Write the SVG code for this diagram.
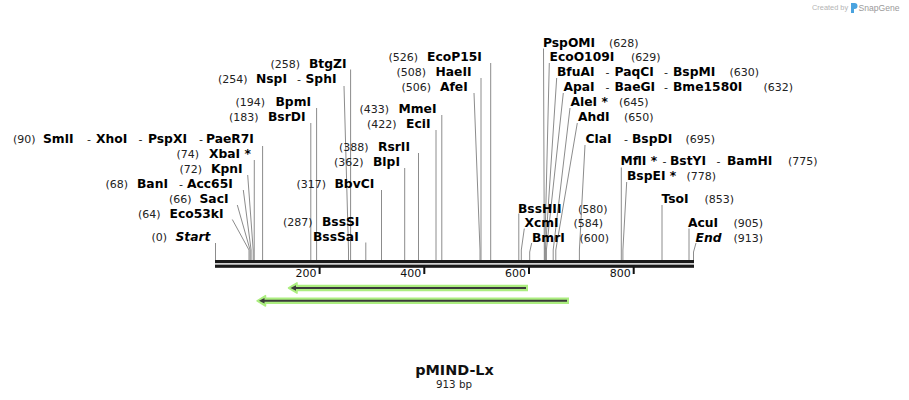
<svg xmlns="http://www.w3.org/2000/svg" width="909" height="400" viewBox="0 0 909 400">
<style>
.n{font-family:"DejaVu Sans",Verdana,sans-serif;font-size:11px;fill:#222}
.b{font-family:"DejaVu Sans",Verdana,sans-serif;font-size:12.3px;font-weight:bold;fill:#000}
.bi{font-family:"DejaVu Sans",Verdana,sans-serif;font-size:12.3px;font-weight:bold;font-style:italic;fill:#000}
.ln{stroke:#8c8c8c;stroke-width:1;fill:none}
.tk{font-family:"DejaVu Sans",Verdana,sans-serif;font-size:11px;fill:#111;text-anchor:end}
.wm{font-family:"Liberation Sans",Arial,sans-serif}
</style>
<rect width="909" height="400" fill="#fff"/>
<g id="watermark">
<text class="wm" x="812" y="10" font-size="7.4" fill="#b4b4b4">Created by</text>
<path d="M851,3 h3.5 a3,3 0 0 1 0,6 h-0.5 v4 h-3 z" fill="#4aa3df"/>
<text class="wm" x="858.5" y="11" font-size="8.6" fill="#9a9a9a">SnapGene</text>
</g>
<g id="connectors">
<polyline class="ln" points="215.5,243 215.5,260"/>
<polyline class="ln" points="232.3,219.5 249,250 249,260"/>
<polyline class="ln" points="237.3,205 250.1,250 250.1,260"/>
<polyline class="ln" points="243.3,190 251.1,250 251.1,260"/>
<polyline class="ln" points="247.7,175 253.2,250 253.2,260"/>
<polyline class="ln" points="254.3,160 254.2,260"/>
<polyline class="ln" points="262.6,146 262.6,260"/>
<polyline class="ln" points="310.8,123 310.8,260"/>
<polyline class="ln" points="316.6,108 316.6,260"/>
<polyline class="ln" points="344,86 348.5,250 348.5,260"/>
<polyline class="ln" points="350.6,69.5 350.6,260"/>
<polyline class="ln" points="365.8,242.5 365.8,260"/>
<polyline class="ln" points="381.5,190 381.5,260"/>
<polyline class="ln" points="404.7,168 404.7,260"/>
<polyline class="ln" points="418.5,153 418.5,260"/>
<polyline class="ln" points="436,130 436,260"/>
<polyline class="ln" points="441.8,115 441.8,260"/>
<polyline class="ln" points="474,93 480,250 480,260"/>
<polyline class="ln" points="481,78 481,260"/>
<polyline class="ln" points="490.7,63 490.7,260"/>
<polyline class="ln" points="518.8,213.5 518.8,260"/>
<polyline class="ln" points="524.3,228.5 521.3,250 521.3,260"/>
<polyline class="ln" points="531.7,243 529.7,252 529.7,260"/>
<polyline class="ln" points="543.5,48.5 544.3,250 544.3,260"/>
<polyline class="ln" points="549.3,63 544.8,250 544.8,260"/>
<polyline class="ln" points="556.7,78 545.4,250 545.4,260"/>
<polyline class="ln" points="563.3,93 546.4,250 546.4,260"/>
<polyline class="ln" points="570,108 553.2,250 553.2,260"/>
<polyline class="ln" points="577.3,123 555.8,250 555.8,260"/>
<polyline class="ln" points="585,145 579.4,250 579.4,260"/>
<polyline class="ln" points="621.3,167.5 621.3,260"/>
<polyline class="ln" points="626.7,182 622.9,250 622.9,260"/>
<polyline class="ln" points="662,205 662,260"/>
<polyline class="ln" points="689,228.5 689,260"/>
<polyline class="ln" points="696,243 693.5,252 693.5,260"/>
</g>
<g id="backbone">
<rect x="215" y="260" width="479" height="3.2" fill="#1a1a1a"/>
<rect x="215" y="264.6" width="479" height="3.2" fill="#1a1a1a"/>
<rect x="318.6" y="267" width="2" height="7" fill="#111"/>
<rect x="423.3" y="267" width="2" height="7" fill="#111"/>
<rect x="528" y="267" width="2" height="7" fill="#111"/>
<rect x="632.7" y="267" width="2" height="7" fill="#111"/>
<text class="tk" x="316.5" y="277">200</text>
<text class="tk" x="421.3" y="277">400</text>
<text class="tk" x="526" y="277">600</text>
<text class="tk" x="630.7" y="277">800</text>
</g>
<g id="feature1">
<path d="M528,288 H294" stroke="#acee80" stroke-width="6.5" fill="none"/>
<polygon points="288.5,288 297,282.8 297,293.2" fill="#acee80" stroke="#acee80" stroke-width="1.5" stroke-linejoin="round"/>
<path d="M526,288 H294" stroke="#3a3a3a" stroke-width="2" fill="none"/>
<polygon points="290.5,288 296,285.2 296,290.8" fill="#3a3a3a"/>
</g>
<g id="feature2">
<path d="M569,300.8 H262" stroke="#acee80" stroke-width="6.5" fill="none"/>
<polygon points="257,300.8 265.5,295.6 265.5,306" fill="#acee80" stroke="#acee80" stroke-width="1.5" stroke-linejoin="round"/>
<path d="M567,300.8 H262" stroke="#3a3a3a" stroke-width="2" fill="none"/>
<polygon points="259,300.8 264.5,298 264.5,303.6" fill="#3a3a3a"/>
</g>
<g id="lbl-SmlI"><text y="143"><tspan class="n" x="13">(90)</tspan><tspan class="b" x="43">SmlI</tspan><tspan class="n" x="87">-</tspan><tspan class="b" x="96">XhoI</tspan><tspan class="n" x="138.5">-</tspan><tspan class="b" x="148">PspXI</tspan><tspan class="n" x="199">-</tspan><tspan class="b" x="206">PaeR7I</tspan></text></g>
<g id="lbl-XbaI"><text y="158"><tspan class="n" x="176.5">(74)</tspan><tspan class="b" x="209">XbaI *</tspan></text></g>
<g id="lbl-KpnI"><text y="173"><tspan class="n" x="179.5">(72)</tspan><tspan class="b" x="211">KpnI</tspan></text></g>
<g id="lbl-BanI"><text y="188"><tspan class="n" x="105.5">(68)</tspan><tspan class="b" x="137">BanI</tspan><tspan class="n" x="179">-</tspan><tspan class="b" x="187">Acc65I</tspan></text></g>
<g id="lbl-SacI"><text y="203"><tspan class="n" x="169">(66)</tspan><tspan class="b" x="199.5">SacI</tspan></text></g>
<g id="lbl-Eco53kI"><text y="218"><tspan class="n" x="138">(64)</tspan><tspan class="b" x="169.5">Eco53kI</tspan></text></g>
<g id="lbl-Start"><text y="241"><tspan class="n" x="151.5">(0)</tspan><tspan class="bi" x="175.5">Start</tspan></text></g>
<g id="lbl-BtgZI"><text y="68"><tspan class="n" x="270.5">(258)</tspan><tspan class="b" x="309">BtgZI</tspan></text></g>
<g id="lbl-NspI"><text y="83"><tspan class="n" x="218">(254)</tspan><tspan class="b" x="256">NspI</tspan><tspan class="n" x="297">-</tspan><tspan class="b" x="305.5">SphI</tspan></text></g>
<g id="lbl-BpmI"><text y="106"><tspan class="n" x="235.5">(194)</tspan><tspan class="b" x="275.5">BpmI</tspan></text></g>
<g id="lbl-BsrDI"><text y="121"><tspan class="n" x="229">(183)</tspan><tspan class="b" x="268">BsrDI</tspan></text></g>
<g id="lbl-EcoP15I"><text y="61"><tspan class="n" x="388.5">(526)</tspan><tspan class="b" x="427">EcoP15I</tspan></text></g>
<g id="lbl-HaeII"><text y="76"><tspan class="n" x="396.5">(508)</tspan><tspan class="b" x="435.5">HaeII</tspan></text></g>
<g id="lbl-AfeI"><text y="91"><tspan class="n" x="401.5">(506)</tspan><tspan class="b" x="440">AfeI</tspan></text></g>
<g id="lbl-MmeI"><text y="113"><tspan class="n" x="359.5">(433)</tspan><tspan class="b" x="398.5">MmeI</tspan></text></g>
<g id="lbl-EciI"><text y="128"><tspan class="n" x="367">(422)</tspan><tspan class="b" x="406">EciI</tspan></text></g>
<g id="lbl-RsrII"><text y="151"><tspan class="n" x="339">(388)</tspan><tspan class="b" x="378">RsrII</tspan></text></g>
<g id="lbl-BlpI"><text y="166"><tspan class="n" x="334">(362)</tspan><tspan class="b" x="373">BlpI</tspan></text></g>
<g id="lbl-BbvCI"><text y="188"><tspan class="n" x="296.5">(317)</tspan><tspan class="b" x="334.5">BbvCI</tspan></text></g>
<g id="lbl-BssSI"><text y="226"><tspan class="n" x="283">(287)</tspan><tspan class="b" x="322">BssSI</tspan></text></g>
<g id="lbl-BssSaI"><text y="241"><tspan class="b" x="313">BssSaI</tspan></text></g>
<g id="lbl-PspOMI"><text y="46.5"><tspan class="b" x="543">PspOMI</tspan><tspan class="n" x="609">(628)</tspan></text></g>
<g id="lbl-EcoO109I"><text y="61"><tspan class="b" x="549.5">EcoO109I</tspan><tspan class="n" x="631">(629)</tspan></text></g>
<g id="lbl-BfuAI"><text y="76"><tspan class="b" x="557">BfuAI</tspan><tspan class="n" x="605.5">-</tspan><tspan class="b" x="614.5">PaqCI</tspan><tspan class="n" x="664">-</tspan><tspan class="b" x="673">BspMI</tspan><tspan class="n" x="729.5">(630)</tspan></text></g>
<g id="lbl-ApaI"><text y="91"><tspan class="b" x="563.5">ApaI</tspan><tspan class="n" x="605.5">-</tspan><tspan class="b" x="614.5">BaeGI</tspan><tspan class="n" x="664">-</tspan><tspan class="b" x="673">Bme1580I</tspan><tspan class="n" x="763.5">(632)</tspan></text></g>
<g id="lbl-AleI"><text y="106"><tspan class="b" x="570.5">AleI *</tspan><tspan class="n" x="619">(645)</tspan></text></g>
<g id="lbl-AhdI"><text y="121"><tspan class="b" x="578">AhdI</tspan><tspan class="n" x="624">(650)</tspan></text></g>
<g id="lbl-ClaI"><text y="143"><tspan class="b" x="585.5">ClaI</tspan><tspan class="n" x="624">-</tspan><tspan class="b" x="632">BspDI</tspan><tspan class="n" x="685.5">(695)</tspan></text></g>
<g id="lbl-MflI"><text y="165"><tspan class="b" x="620.5">MflI *</tspan><tspan class="n" x="662.5">-</tspan><tspan class="b" x="670">BstYI</tspan><tspan class="n" x="716.5">-</tspan><tspan class="b" x="727">BamHI</tspan><tspan class="n" x="788">(775)</tspan></text></g>
<g id="lbl-BspEI"><text y="180"><tspan class="b" x="627">BspEI *</tspan><tspan class="n" x="686.5">(778)</tspan></text></g>
<g id="lbl-TsoI"><text y="203"><tspan class="b" x="661.5">TsoI</tspan><tspan class="n" x="704.5">(853)</tspan></text></g>
<g id="lbl-AcuI"><text y="226.5"><tspan class="b" x="688">AcuI</tspan><tspan class="n" x="733.5">(905)</tspan></text></g>
<g id="lbl-End"><text y="241.5"><tspan class="bi" x="695.5">End</tspan><tspan class="n" x="733.5">(913)</tspan></text></g>
<g id="lbl-BssHII"><text y="213"><tspan class="b" x="518">BssHII</tspan><tspan class="n" x="578">(580)</tspan></text></g>
<g id="lbl-XcmI"><text y="227"><tspan class="b" x="524.5">XcmI</tspan><tspan class="n" x="573.5">(584)</tspan></text></g>
<g id="lbl-BmrI"><text y="241.5"><tspan class="b" x="532">BmrI</tspan><tspan class="n" x="579.5">(600)</tspan></text></g>
<g id="title">
<text x="454.5" y="375" text-anchor="middle" font-family="DejaVu Sans,Verdana,sans-serif" font-size="14.4" font-weight="bold" fill="#111">pMIND-Lx</text>
<text x="454" y="387.5" text-anchor="middle" font-family="DejaVu Sans,Verdana,sans-serif" font-size="10.3" fill="#222">913 bp</text>
</g>
</svg>
